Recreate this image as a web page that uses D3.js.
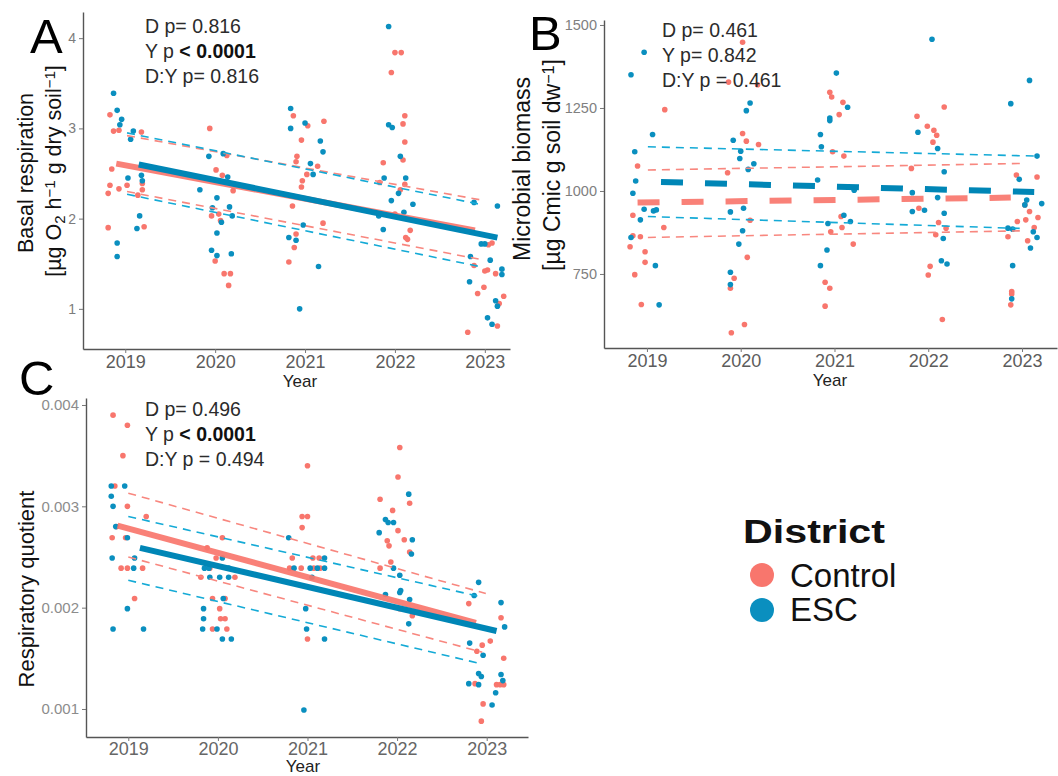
<!DOCTYPE html>
<html><head><meta charset="utf-8">
<script src="https://cdn.jsdelivr.net/npm/d3@7"></script>
<style>body{margin:0;background:#fff}svg{display:block}</style>
</head><body>
<svg id="chart" width="1058" height="776"></svg>
<script>
// ---------------- DATA ----------------
const yearTicks = [2019, 2020, 2021, 2022, 2023];
const districts = ["Control", "ESC"];

// Panel A: basal respiration [year(jittered), value]
const respControl = [[2018.83,3.15],[2018.87,2.97],[2018.93,2.98],[2019.18,2.96],[2018.85,2.55],[2018.83,2.37],[2018.81,2.28],[2018.93,2.33],[2019.02,2.37],[2019.14,2.26],[2019.19,2.32],[2019.19,2.39],[2018.81,1.90],[2019.21,1.91],
[2019.94,3.00],[2020.13,2.70],[2020.01,2.54],[2020.08,2.48],[2020.20,2.31],[2019.96,2.03],[2020.04,2.05],[2020.06,1.98],[2020.00,1.53],[2020.10,1.39],[2020.17,1.39],[2020.15,1.26],
[2020.87,3.14],[2021.03,3.03],[2021.21,3.08],[2020.96,2.87],[2020.91,2.69],[2020.90,2.63],[2021.14,2.58],[2021.02,2.49],[2020.97,2.42],[2020.96,2.35],[2020.86,2.14],[2021.20,1.95],[2020.90,1.83],[2020.88,1.68],[2020.82,1.52],
[2022.00,3.84],[2022.07,3.84],[2021.96,3.62],[2022.11,3.14],[2022.09,3.05],[2022.11,2.85],[2022.09,2.65],[2021.87,2.62],[2021.83,2.40],[2022.11,2.38],[2022.06,2.32],[2022.00,2.05],[2022.17,1.87],[2022.12,1.79],[2022.14,1.77],
[2023.04,1.71],[2023.08,1.73],[2022.88,1.48],[2023.03,1.43],[2023.00,1.42],[2023.12,1.39],[2022.99,1.24],[2022.92,1.17],[2023.21,1.14],[2023.16,1.06],[2023.14,0.81],[2022.81,0.74]];
const respESC = [[2018.87,3.39],[2018.91,3.20],[2018.96,3.10],[2018.94,3.04],[2019.09,2.97],[2019.06,2.88],[2019.03,2.45],[2019.18,2.48],[2019.19,2.42],[2019.16,2.03],[2019.13,1.89],[2018.91,1.73],[2018.91,1.58],
[2019.93,2.69],[2020.09,2.72],[2019.83,2.32],[2020.02,2.23],[2020.14,2.46],[2019.97,2.12],[2020.07,1.96],[2020.16,2.13],[2020.19,2.03],[2020.02,1.84],[2019.96,1.65],[2020.02,1.59],[2020.18,1.61],
[2020.84,3.22],[2020.84,3.00],[2021.00,3.06],[2021.17,2.86],[2021.20,2.74],[2021.06,2.61],[2021.09,2.49],[2020.98,1.93],[2020.82,1.79],[2020.90,1.76],[2021.15,1.47],[2020.94,1.00],
[2021.93,4.13],[2021.93,3.04],[2021.97,3.01],[2022.06,2.69],[2021.88,2.45],[2022.12,2.45],[2022.04,2.28],[2021.96,2.20],[2022.10,2.07],[2022.20,2.16],[2021.82,2.03],[2021.87,1.88],
[2022.88,2.18],[2023.14,2.14],[2022.96,1.72],[2023.00,1.72],[2023.06,1.54],[2022.84,1.58],[2023.19,1.44],[2023.19,1.38],[2022.83,1.30],[2023.12,1.09],[2023.14,1.03],[2023.03,0.90],[2023.08,0.83]];
const respFitControl = [[2018.90,2.61],[2022.89,1.87]];
const respFitESC = [[2019.15,2.60],[2023.14,1.79]];
const respCIControl = [[[2019.02,2.92],[2022.94,2.21]], [[2019.02,2.30],[2022.94,1.55]]];
const respCIESC = [[[2019.02,2.95],[2022.94,2.16]], [[2019.02,2.27],[2022.94,1.47]]];
const respTicks = [1, 2, 3, 4];
const respStats = ["D p= 0.816", "Y p ", "< 0.0001", "D:Y p= 0.816"];

// Panel B: microbial biomass
const bioControl = [[2019.19,1245],[2018.90,1075],[2018.85,927],[2018.85,865],[2018.93,862],[2018.82,832],[2018.98,817],[2018.98,785],[2018.87,748],[2018.94,658],[2019.18,890],
[2020.02,1448],[2019.87,1328],[2020.18,1320],[2020.02,1173],[2020.06,1150],[2020.19,1140],[2019.86,1055],[2020.10,912],[2020.07,800],[2019.93,737],[2019.89,707],[2020.04,598],[2019.90,573],
[2020.95,1297],[2020.97,1283],[2021.09,1267],[2021.05,1230],[2020.98,1118],[2021.10,1105],[2021.07,923],[2021.08,890],[2020.96,877],[2021.20,840],[2020.90,725],[2020.95,707],[2020.90,653],
[2022.17,1253],[2021.88,1225],[2021.99,1195],[2022.06,1183],[2022.09,1168],[2022.05,1147],[2021.82,1068],[2021.90,948],[2022.11,905],[2022.19,888],[2022.08,868],[2022.02,773],[2022.00,747],[2022.15,613],
[2023.16,1042],[2022.94,1048],[2023.08,938],[2023.03,958],[2022.95,908],[2023.04,913],[2023.17,920],[2023.13,890],[2022.85,862],[2023.06,850],[2022.89,697],[2022.89,690],[2022.88,657]];
const bioESC = [[2018.83,1350],[2018.97,1418],[2018.87,1118],[2018.88,1030],[2018.85,993],[2018.97,945],[2018.93,913],[2019.07,940],[2019.10,943],[2018.83,860],[2019.09,775],[2019.13,657],[2019.06,1170],
[2020.10,1265],[2020.06,1242],[2019.92,1153],[2020.00,1120],[2019.99,1098],[2020.08,1065],[2020.14,1082],[2019.89,937],[2020.03,948],[2020.02,880],[2019.98,840],[2019.89,755],[2019.89,718],
[2021.02,1355],[2021.14,1252],[2020.95,1220],[2020.95,1212],[2020.85,1170],[2020.86,1133],[2020.82,1033],[2021.21,1002],[2021.10,927],[2021.17,908],[2020.93,902],[2020.92,822],[2020.85,775],
[2022.04,1457],[2021.89,1177],[2022.10,1128],[2022.17,1058],[2021.83,995],[2022.10,980],[2021.83,938],[2021.96,942],[2022.17,933],[2022.16,857],[2022.14,790],[2022.20,780],
[2023.08,1333],[2022.88,1263],[2023.16,1105],[2022.97,1035],[2023.05,973],[2023.21,962],[2023.03,958],[2022.85,888],[2022.90,885],[2023.12,877],[2023.16,860],[2023.09,828],[2022.90,775],[2022.89,675]];
const bioFitControl = [[2018.90,965],[2022.88,980]];
const bioFitESC = [[2019.15,1027],[2023.13,997]];
const bioCIControl = [[[2019.01,1063],[2023.00,1083]], [[2019.01,860],[2023.00,880]]];
const bioCIESC = [[[2019.01,1133],[2023.17,1105]], [[2019.01,923],[2023.00,887]]];
const bioTicks = [750, 1000, 1250, 1500];
const bioStats = ["D p= 0.461", "Y p= 0.842", "", "D:Y p = 0.461"];

// Panel C: respiratory quotient
const rqControl = [[2018.83,0.00390],[2018.99,0.00380],[2018.94,0.00350],[2018.85,0.00320],[2018.99,0.00300],[2019.20,0.00290],[2018.82,0.00269],[2018.97,0.00269],[2018.92,0.00239],[2018.99,0.00239],[2019.16,0.00239],[2019.07,0.00209],[2018.87,0.00280],
[2020.05,0.00269],[2019.98,0.00249],[2019.81,0.00230],[2019.91,0.00239],[2020.19,0.00230],[2019.94,0.00209],[2020.08,0.00209],[2020.02,0.00199],[2020.03,0.00189],[2020.08,0.00189],[2019.94,0.00179],[2020.10,0.00179],[2019.88,0.00259],
[2021.00,0.00340],[2020.94,0.00290],[2021.00,0.00290],[2020.94,0.00279],[2020.83,0.00249],[2021.06,0.00249],[2021.13,0.00249],[2020.80,0.00239],[2020.93,0.00239],[2021.14,0.00239],[2021.00,0.00169],[2021.07,0.00239],
[2022.03,0.00358],[2022.01,0.00329],[2021.81,0.00307],[2021.95,0.00296],[2022.01,0.00276],[2022.08,0.00267],[2021.89,0.00266],[2021.91,0.00261],[2022.14,0.00255],[2021.93,0.00245],[2021.81,0.00239],[2022.03,0.00199],[2022.17,0.00192],[2022.14,0.00303],
[2022.80,0.00204],[2023.16,0.00190],[2023.04,0.00167],[2022.89,0.00157],[2022.95,0.00163],[2023.19,0.00150],[2022.87,0.00125],[2023.11,0.00124],[2023.15,0.00124],[2023.19,0.00124],[2022.96,0.00105],[2022.94,0.00088]];
const rqESC = [[2018.81,0.00320],[2018.96,0.00320],[2018.81,0.00310],[2018.83,0.00300],[2018.86,0.00280],[2018.99,0.00269],[2018.82,0.00249],[2019.07,0.00249],[2019.06,0.00239],[2018.99,0.00199],[2018.83,0.00179],[2019.17,0.00179],
[2019.85,0.00239],[2019.90,0.00239],[2020.05,0.00249],[2020.12,0.00239],[2019.91,0.00230],[2020.02,0.00230],[2020.12,0.00230],[2020.06,0.00209],[2019.84,0.00199],[2019.84,0.00189],[2019.83,0.00179],[2019.99,0.00179],[2020.05,0.00169],[2020.15,0.00169],
[2020.79,0.00269],[2020.85,0.00239],[2021.03,0.00239],[2021.11,0.00239],[2021.19,0.00249],[2021.19,0.00239],[2021.05,0.00230],[2020.98,0.00199],[2020.99,0.00179],[2021.19,0.00169],[2020.96,0.00099],
[2022.13,0.00312],[2021.87,0.00287],[2021.96,0.00284],[2021.90,0.00284],[2021.80,0.00274],[2022.17,0.00267],[2022.16,0.00253],[2021.96,0.00239],[2022.03,0.00232],[2022.04,0.00217],[2022.03,0.00215],[2021.87,0.00213],[2022.14,0.00208],[2022.13,0.00184],
[2022.91,0.00225],[2022.86,0.00212],[2023.16,0.00205],[2023.20,0.00181],[2022.81,0.00165],[2022.96,0.00153],[2022.91,0.00135],[2022.94,0.00132],[2022.80,0.00125],[2022.91,0.00124],[2023.16,0.00134],[2023.18,0.00128],[2023.10,0.00116],[2023.06,0.00104]];
const rqFitControl = [[2018.88,0.00281],[2022.88,0.00185]];
const rqFitESC = [[2019.13,0.00259],[2023.11,0.00177]];
const rqCIControl = [[[2019.00,0.00313],[2022.99,0.00214]], [[2019.00,0.00250],[2022.95,0.00156]]];
const rqCIESC = [[[2019.00,0.00290],[2022.92,0.00211]], [[2019.00,0.00227],[2022.92,0.00145]]];
const rqTicks = [0.001, 0.002, 0.003, 0.004];
const rqStats = ["D p= 0.496", "Y p ", "< 0.0001", "D:Y p = 0.494"];

// ---------------- DRAWING ----------------
const F = "'Liberation Sans', Arial, Helvetica, sans-serif";
const col = {Control: "#F8766D", ESC: "#0A8FBF"};
const lineCol = {Control: "#F8766D", ESC: "#0086B6"};
const ciCol = {Control: "#F8877F", ESC: "#14AAD6"};
const svg = d3.select("#chart");

function drawPanel(p) {
  const g = svg.append("g");
  const x = d3.scaleLinear().domain(p.xDomain).range(p.xRange);
  const y = d3.scaleLinear().domain(p.yDomain).range(p.yRange);

  // axes
  const xa = g.append("g").attr("transform", `translate(0,${p.yRange[0]})`)
    .call(d3.axisBottom(x).tickValues(yearTicks).tickFormat(d3.format("d")).tickSize(4).tickSizeOuter(0).tickPadding(p.xPad));
  xa.selectAll("text").attr("font-family", F).attr("font-size", p.xFont).attr("fill", p.xTickCol);
  xa.selectAll("line").attr("stroke", "#777");
  xa.select(".domain").attr("stroke", "#555").attr("stroke-width", 1.4);

  const ya = g.append("g").attr("transform", `translate(${p.xRange[0]},0)`)
    .call(d3.axisLeft(y).tickValues(p.yTicks).tickFormat(p.yFormat).tickSize(4).tickSizeOuter(0).tickPadding(3));
  ya.selectAll("text").attr("font-family", F).attr("font-size", p.yFont).attr("fill", p.yTickCol);
  ya.selectAll("line").attr("stroke", "#777");
  ya.select(".domain").attr("stroke", "#555").attr("stroke-width", 1.4);

  // points
  const series = [["Control", p.control], ["ESC", p.esc]];
  series.forEach(([name, data]) => {
    g.append("g").selectAll("circle").data(data).join("circle")
      .attr("cx", d => x(d[0])).attr("cy", d => y(d[1])).attr("r", 2.8)
      .attr("fill", col[name]);
  });

  const line = d3.line().x(d => x(d[0])).y(d => y(d[1]));
  // confidence bands (dashed)
  [["Control", p.ciControl], ["ESC", p.ciESC]].forEach(([name, lines]) => {
    lines.forEach(l => g.append("path").attr("d", line(l)).attr("fill", "none")
      .attr("stroke", ciCol[name]).attr("stroke-width", 1.6).attr("stroke-dasharray", "8,6"));
  });
  // fit lines
  [["Control", p.fitControl], ["ESC", p.fitESC]].forEach(([name, l]) => {
    g.append("path").attr("d", line(l)).attr("fill", "none")
      .attr("stroke", lineCol[name]).attr("stroke-width", p.fitWidth)
      .attr("stroke-dasharray", p.fitDash || null).attr("opacity", name === "Control" ? 0.92 : 1);
  });

  // stats text
  const st = g.append("g").attr("font-family", F).attr("font-size", 19.5).attr("fill", "#2b2b2b");
  st.append("text").attr("x", p.statX).attr("y", p.statY[0]).text(p.stats[0]);
  const t2 = st.append("text").attr("x", p.statX).attr("y", p.statY[1]);
  t2.append("tspan").text(p.stats[1]);
  if (p.stats[2]) t2.append("tspan").attr("font-weight", "bold").attr("fill", "#111").text(p.stats[2]);
  st.append("text").attr("x", p.statX).attr("y", p.statY[2]).text(p.stats[3]);

  // x title
  g.append("text").attr("x", p.yearX).attr("y", p.yearY).attr("text-anchor", "middle")
    .attr("font-family", F).attr("font-size", 17).attr("fill", "#222").text("Year");

  // panel letter
  g.append("text").attr("x", p.letterX).attr("y", p.letterY).attr("font-family", F)
    .attr("font-size", 49).attr("fill", "#000").text(p.letter);

  // y title lines
  p.yTitle.forEach(t => {
    const tx = g.append("text").attr("transform", `translate(${t.x},${t.cy}) rotate(-90)`)
      .attr("text-anchor", "middle").attr("font-family", F).attr("font-size", t.size).attr("fill", "#111");
    t.parts.forEach(pt => {
      const ts = tx.append("tspan").text(pt[0]);
      if (pt[1] === "sub") ts.attr("font-size", t.size * 0.7).attr("baseline-shift", "-25%");
      if (pt[1] === "sup") ts.attr("font-size", t.size * 0.7).attr("baseline-shift", "40%");
    });
  });
}

drawPanel({
  xDomain: [2018.53, 2023.28], xRange: [83, 510],
  yDomain: [0.555, 4.29], yRange: [349, 12],
  yTicks: respTicks, yFormat: d3.format("d"),
  xFont: 18, xPad: 2, xTickCol: "#5c5c5c", yFont: 14, yTickCol: "#7c7c7c",
  control: respControl, esc: respESC,
  fitControl: respFitControl, fitESC: respFitESC,
  ciControl: respCIControl, ciESC: respCIESC,
  fitWidth: 6, fitDash: null,
  stats: respStats, statX: 145, statY: [33, 58, 83],
  yearX: 300, yearY: 387, letter: "A", letterX: 30, letterY: 53,
  yTitle: [
    {x: 33, cy: 173, size: 21.5, parts: [["Basal respiration"]]},
    {x: 61, cy: 171, size: 21.5, parts: [["[µg O"], ["2", "sub"], [" h"], ["−1", "sup"], [" g dry soil"], ["−1", "sup"], ["]"]]}
  ]
});

drawPanel({
  xDomain: [2018.542, 2023.373], xRange: [604, 1057],
  yDomain: [527, 1515], yRange: [348, 20],
  yTicks: bioTicks, yFormat: d3.format("d"),
  xFont: 18, xPad: 2, xTickCol: "#5c5c5c", yFont: 14.5, yTickCol: "#808080",
  control: bioControl, esc: bioESC,
  fitControl: bioFitControl, fitESC: bioFitESC,
  ciControl: bioCIControl, ciESC: bioCIESC,
  fitWidth: 6, fitDash: "22,22",
  stats: bioStats, statX: 662, statY: [37, 62, 87],
  yearX: 830, yearY: 386, letter: "B", letterX: 529, letterY: 50,
  yTitle: [
    {x: 530, cy: 169, size: 23, parts: [["Microbial biomass"]]},
    {x: 560, cy: 165, size: 23, parts: [["[µg Cmic g soil dw"], ["−1", "sup"], ["]"]]}
  ]
});

drawPanel({
  xDomain: [2018.528, 2023.461], xRange: [86, 528],
  yDomain: [0.0007236, 0.004069], yRange: [737, 398],
  yTicks: rqTicks, yFormat: d3.format(".3f"),
  xFont: 18, xPad: 1, xTickCol: "#666", yFont: 15, yTickCol: "#8c8c8c",
  control: rqControl, esc: rqESC,
  fitControl: rqFitControl, fitESC: rqFitESC,
  ciControl: rqCIControl, ciESC: rqCIESC,
  fitWidth: 6, fitDash: null,
  stats: rqStats, statX: 145, statY: [416, 441, 466],
  yearX: 303, yearY: 772, letter: "C", letterX: 19, letterY: 395,
  yTitle: [
    {x: 34, cy: 589, size: 22, parts: [["Respiratory quotient"]]}
  ]
});

// legend
const lg = svg.append("g").attr("font-family", F);
lg.append("text").attr("x", 743).attr("y", 543).attr("font-size", 33).attr("font-weight", "bold")
  .attr("fill", "#111").attr("textLength", 142).attr("lengthAdjust", "spacingAndGlyphs").text("District");
districts.forEach((d, i) => {
  lg.append("circle").attr("cx", 762).attr("cy", 575 + i * 35).attr("r", 12).attr("fill", col[d]);
  lg.append("text").attr("x", 790).attr("y", 587 + i * 34).attr("font-size", 33).attr("fill", "#111").text(d);
});
</script></body></html>
